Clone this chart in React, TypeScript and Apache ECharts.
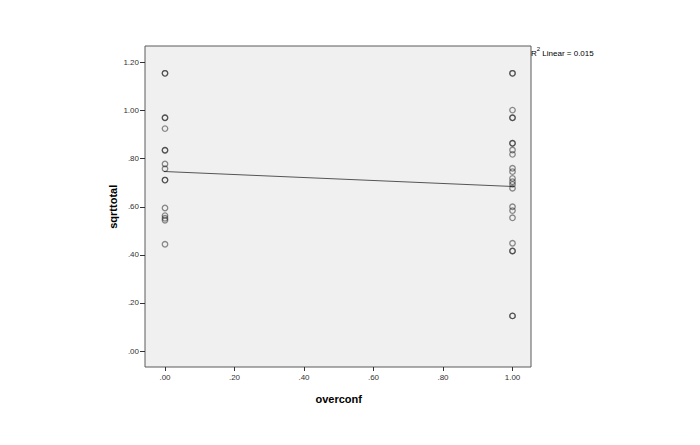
import React, { useEffect, useRef } from "react";
import * as echarts from "echarts";

// Data (x = overconf, y = sqrttotal)
const group0Values = [1.155, 1.155, 0.970, 0.970, 0.925, 0.835, 0.835, 0.778, 0.758, 0.711, 0.711, 0.595, 0.563, 0.552, 0.544, 0.444];
const group1Values = [1.155, 1.155, 1.002, 0.970, 0.970, 0.864, 0.864, 0.836, 0.818, 0.760, 0.746, 0.718, 0.704, 0.693, 0.677, 0.600, 0.584, 0.554, 0.448, 0.416, 0.416, 0.146, 0.146];
const groupX = [0, 1];
const fitLineX = [-0.058, 1.053];
const fitLineY = [0.750, 0.681];
const xTicks = [0, 0.2, 0.4, 0.6, 0.8, 1.0];
const xTickLabels = [".00", ".20", ".40", ".60", ".80", "1.00"];
const yTicks = [0, 0.2, 0.4, 0.6, 0.8, 1.0, 1.2];
const yTickLabels = [".00", ".20", ".40", ".60", ".80", "1.00", "1.20"];
const r2Text = "0.015";

export default function App() {
  const ref = useRef<HTMLDivElement>(null);
  useEffect(() => {
    if (!ref.current) return;
    const chart = echarts.init(ref.current, null, { renderer: "svg" });
    const points: number[][] = [];
    group0Values.forEach((v) => points.push([groupX[0], v]));
    group1Values.forEach((v) => points.push([groupX[1], v]));
    const labelFont = { fontFamily: "Liberation Sans, Arial, sans-serif", fontSize: 8, color: "#333333" };
    const nameFont = { fontFamily: "Liberation Sans, Arial, sans-serif", fontSize: 11, fontWeight: "bold" as const, color: "#000000" };
    chart.setOption({
      animation: false,
      backgroundColor: "#ffffff",
      grid: [
        { left: 145, top: 46, width: 386, height: 321, show: true, backgroundColor: "#f0f0f0", borderColor: "#5a5a5a", borderWidth: 1 },
        { left: 165, top: 62.5, width: 347.5, height: 288.5 },
      ],
      xAxis: [
        { gridIndex: 0, type: "value", show: false, min: 0, max: 1 },
        {
          gridIndex: 1,
          type: "value",
          min: 0,
          max: 1,
          interval: 0.2,
          offset: 16,
          name: "overconf",
          nameLocation: "middle",
          nameGap: 26,
          nameTextStyle: nameFont,
          axisLine: { show: false, onZero: false },
          axisTick: { show: true, length: 4, inside: false, lineStyle: { color: "#333" } },
          splitLine: { show: false },
          axisLabel: {
            ...labelFont,
            margin: 6,
            formatter: (v: number) => {
              const i = xTicks.findIndex((t) => Math.abs(t - v) < 1e-6);
              return i >= 0 ? xTickLabels[i] : "";
            },
          },
        },
      ],
      yAxis: [
        { gridIndex: 0, type: "value", show: false, min: 0, max: 1 },
        {
          gridIndex: 1,
          type: "value",
          min: 0,
          max: 1.2,
          interval: 0.2,
          offset: 20,
          name: "sqrttotal",
          nameLocation: "middle",
          nameGap: 27,
          nameTextStyle: nameFont,
          axisLine: { show: false, onZero: false },
          axisTick: { show: true, length: 5, inside: false, lineStyle: { color: "#333" } },
          splitLine: { show: false },
          axisLabel: {
            ...labelFont,
            margin: 6,
            formatter: (v: number) => {
              const i = yTicks.findIndex((t) => Math.abs(t - v) < 1e-6);
              return i >= 0 ? yTickLabels[i] : "";
            },
          },
        },
      ],
      series: [
        {
          type: "scatter",
          xAxisIndex: 1,
          yAxisIndex: 1,
          data: points,
          symbol: "circle",
          symbolSize: 5.5,
          itemStyle: { color: "rgba(0,0,0,0)", borderColor: "rgba(20,20,20,0.6)", borderWidth: 1.3 },
          z: 3,
        },
        {
          type: "line",
          xAxisIndex: 1,
          yAxisIndex: 1,
          data: fitLineX.map((x, i) => [x, fitLineY[i]]),
          clip: false,
          symbol: "none",
          lineStyle: { color: "#555", width: 1 },
          z: 2,
        },
      ],
      graphic: [
        {
          type: "text",
          left: 531,
          top: 46,
          style: {
            text: "{a|R}{s|2}{a| Linear = " + r2Text + "}",
            rich: {
              a: { fontFamily: "Liberation Sans, Arial, sans-serif", fontSize: 8, color: "#333", lineHeight: 11, verticalAlign: "bottom" },
              s: { fontFamily: "Liberation Sans, Arial, sans-serif", fontSize: 6, color: "#333", lineHeight: 11, verticalAlign: "top" },
            },
          },
        },
      ],
    });
    return () => chart.dispose();
  }, []);
  return <div ref={ref} style={{ width: 700, height: 445, position: "absolute", left: 0, top: 0 }} />;
}
